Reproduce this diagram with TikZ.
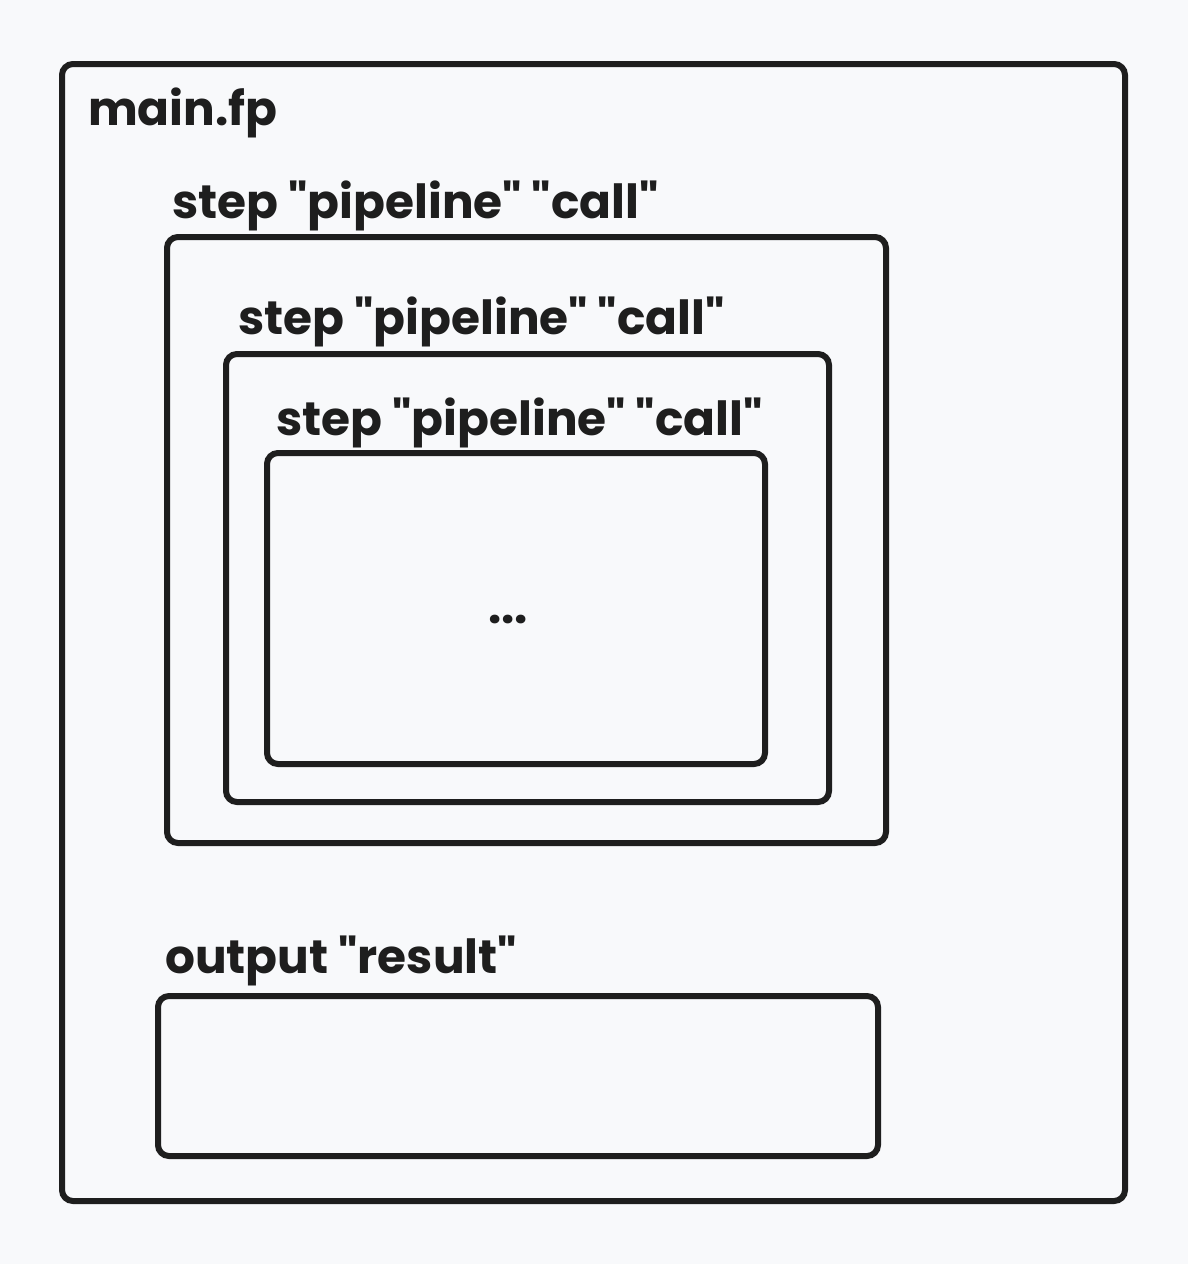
\documentclass[tikz,border=0pt]{standalone}
\usepackage{fontspec}
\setmainfont{Poppins}[Ligatures=TeXOff]
\definecolor{ink}{HTML}{1E1E1E}
\definecolor{bg}{HTML}{F8F9FB}
\begin{document}
\begin{tikzpicture}[x=1pt,y=-1pt,
  box/.style={draw=ink,line width=6pt,rounded corners=11pt},
  lbl/.style={anchor=base west,inner sep=0pt,text=ink,font=\fontsize{47}{56}\selectfont\bfseries}]
\fill[bg] (0,0) rectangle (1188,1264);
\useasboundingbox (0,0) rectangle (1188,1264);
\draw[box] (62,64) rectangle (1125,1201);
\node[lbl] (mainlbl) at (88,125) {main.fp};
\node[lbl] (l1) at (172,218) {step "pipeline" "call"};
\draw[box] (167,237) rectangle (886,843);
\node[lbl] (l2) at (238,334) {step "pipeline" "call"};
\draw[box] (226,354) rectangle (829,802);
\node[lbl] (l3) at (276,435) {step "pipeline" "call"};
\draw[box] (267,453) rectangle (765,764);
\node[lbl,anchor=center] (dots) at (508,619) {...};
\node[lbl] (l4) at (165,973) {output "result"};
\draw[box] (158,996) rectangle (878,1156);
\end{tikzpicture}
\end{document}
